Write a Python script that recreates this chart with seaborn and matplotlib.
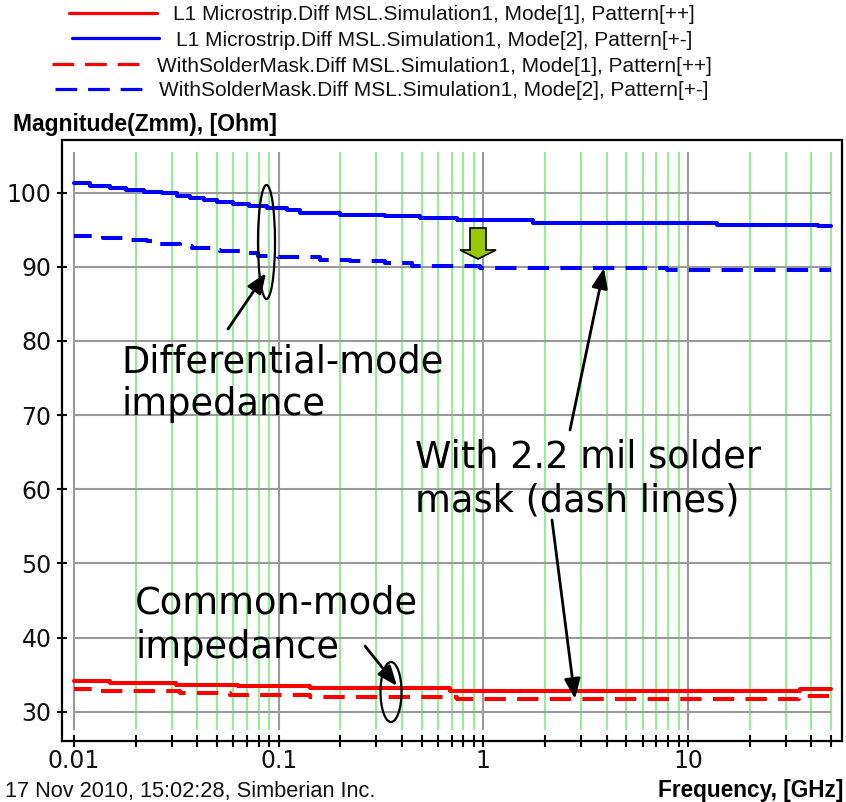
import matplotlib
matplotlib.use("Agg")
import matplotlib.pyplot as plt
import seaborn as sns
import pandas as pd
from matplotlib.patches import Ellipse, Polygon
from matplotlib.lines import Line2D

# ---- data: frequency (GHz) where each step of the extracted curve starts, impedance (Ohm)
freq_diff = [0.010, 0.012, 0.015, 0.018, 0.022, 0.027, 0.032, 0.037, 0.043, 0.050,
             0.060, 0.072, 0.088, 0.110, 0.127, 0.20, 0.331, 0.49, 0.744, 1.75, 13.9, 43.2, 50]
z_diff = [101.24, 100.92, 100.65, 100.34, 100.11, 99.89, 99.57, 99.26, 98.99, 98.72,
          98.45, 98.18, 97.91, 97.64, 97.3, 97.0, 96.8, 96.5, 96.25, 95.9, 95.66, 95.44, 95.44]

freq_diff_sm = [0.010, 0.0139, 0.0173, 0.0227, 0.0263, 0.0329, 0.0377, 0.0472, 0.0517, 0.067,
                0.0793, 0.0993, 0.159, 0.223, 0.331, 0.449, 0.964, 7.9, 50]
z_diff_sm = [94.1, 93.85, 93.6, 93.4, 93.0, 92.8, 92.5, 92.3, 92.1, 91.9,
             91.5, 91.26, 90.95, 90.7, 90.45, 90.13, 89.78, 89.55, 89.55]

freq_comm = [0.010, 0.0150, 0.0316, 0.063, 0.142, 0.689, 35.3, 50]
z_comm = [34.18, 33.91, 33.64, 33.42, 33.15, 32.83, 33.10, 33.10]

freq_comm_sm = [0.010, 0.013, 0.033, 0.058, 0.142, 0.74, 35.0, 50]
z_comm_sm = [33.02, 32.79, 32.52, 32.29, 32.02, 31.71, 32.12, 32.12]

legend_labels = [
    "L1 Microstrip.Diff MSL.Simulation1, Mode[1], Pattern[++]",
    "L1 Microstrip.Diff MSL.Simulation1, Mode[2], Pattern[+-]",
    "WithSolderMask.Diff MSL.Simulation1, Mode[1], Pattern[++]",
    "WithSolderMask.Diff MSL.Simulation1, Mode[2], Pattern[+-]",
]
x_major = [0.01, 0.1, 1, 10]
x_major_labels = ["0.01", "0.1", "1", "10"]
x_minor = [0.02, 0.03, 0.04, 0.05, 0.06, 0.07, 0.08, 0.09,
           0.2, 0.3, 0.4, 0.5, 0.6, 0.7, 0.8, 0.9,
           2, 3, 4, 5, 6, 7, 8, 9, 20, 30, 40, 50]
y_ticks = [30, 40, 50, 60, 70, 80, 90, 100]

# ---- figure
W, H = 846, 802
sns.set_theme(style="white")
plt.rcParams["font.family"] = ["DejaVu Sans"]
plt.rcParams["text.color"] = "black"
plt.rcParams["xtick.color"] = "black"
plt.rcParams["ytick.color"] = "black"
fig = plt.figure(figsize=(W / 100, H / 100), dpi=100)
fig.patch.set_facecolor("white")


def px(x, y):
    return (x / W, 1 - y / H)


ax = fig.add_axes([62 / W, 1 - 741 / H, (842 - 62) / W, (741 - 140) / H])
ax.set_facecolor("white")
ax.set_xscale("log")
ax.set_xlim(0.008737, 56.58)
ax.set_ylim(26.05, 107.08)

# grid
grid_gray = "#9a9a9a"
grid_green = "#86f086"
ax.vlines(x_minor, 27.53, 105.46, color=grid_green, lw=1.3, zorder=0)
ax.vlines(x_major, 27.53, 105.46, color=grid_gray, lw=1.5, zorder=0)
ax.hlines(y_ticks, 0.01, 50, color=grid_gray, lw=1.5, zorder=0)

RED = "#ff0000"
BLUE = "#0000ff"
LW = 2.9
dash = (0.9, (5.3, 2.8))

series = [
    (freq_comm, z_comm, RED, "-"),
    (freq_diff, z_diff, BLUE, "-"),
    (freq_comm_sm, z_comm_sm, RED, dash),
    (freq_diff_sm, z_diff_sm, BLUE, dash),
]
for f, z, c, ls in series:
    df = pd.DataFrame({"freq": f, "z": z})
    sns.lineplot(data=df, x="freq", y="z", ax=ax, color=c, lw=LW, ls=ls,
                 drawstyle="steps-post", estimator=None, sort=True, zorder=3)

ax.set_xlabel("")
ax.set_ylabel("")

# ticks
ax.set_xticks(x_major + x_minor)
ax.set_xticklabels(x_major_labels + [""] * len(x_minor))
ax.xaxis.set_minor_locator(matplotlib.ticker.NullLocator())
ax.set_yticks(y_ticks)
ax.set_yticklabels([str(v) for v in y_ticks])
ax.tick_params(axis="x", direction="inout", length=9, width=1.5, color="black",
               labelsize=17, pad=1, labelcolor="#111111", bottom=True)
ax.tick_params(axis="y", direction="inout", length=7, width=1.5, color="black",
               labelsize=17, pad=4, labelcolor="#111111", left=True)
for s in ax.spines.values():
    s.set_color("black")
    s.set_linewidth(1.6)

# legend: one centred row per series
rows_y = [15, 40, 66, 91]
styles = [(RED, "-"), (BLUE, "-"), (RED, (0, (6.8, 3.4))), (BLUE, (0, (6.8, 3.4)))]
for (c, ls), lab, yy in zip(styles, legend_labels, rows_y):
    h = Line2D([], [], color=c, lw=2.3, ls=ls)
    leg = fig.legend([h], [lab], loc="center", bbox_to_anchor=px(382, yy), frameon=False,
                     prop={"family": "Liberation Sans", "size": 15}, handlelength=4.2,
                     handletextpad=0.8, borderpad=0, borderaxespad=0)
    for t in leg.get_texts():
        t.set_color("#111111")

# axis titles and footer
fig.text(*px(13, 131), "Magnitude(Zmm), [Ohm]", fontsize=16.5, fontweight="bold",
         family="Liberation Sans", ha="left", va="baseline", color="black")
fig.text(*px(843, 797), "Frequency, [GHz]", fontsize=16.3, fontweight="bold",
         family="Liberation Sans", ha="right", va="baseline", color="black")
fig.text(*px(5, 797), "17 Nov 2010, 15:02:28, Simberian Inc.", fontsize=15.7,
         family="Liberation Sans", ha="left", va="baseline", color="#111111")

# annotations
ann_fs = 26.5
for x, y, s in [(121, 373, "Differential-mode"), (121, 415, "impedance"),
                (415, 467, "With 2.2 mil solder"), (415, 512, "mask (dash lines)"),
                (135, 614, "Common-mode"), (135, 658, "impedance")]:
    fig.text(*px(x, y), s, fontsize=ann_fs, ha="left", va="baseline", color="black")

for cx, cy, ew, eh in [(266.5, 242, 17, 114), (391, 692, 21, 60)]:
    e = Ellipse(px(cx, cy), ew / W, eh / H, transform=fig.transFigure,
                fill=False, ec="black", lw=1.6, zorder=10)
    fig.add_artist(e)

arrow_style = "-|>,head_length=0.55,head_width=0.22"
for tail, tip in [((228, 329), (266, 273)),
                  ((365, 646), (397, 686)),
                  ((570, 430), (604, 268)),
                  ((552, 520), (575, 699))]:
    ax.annotate("", xy=px(*tip), xytext=px(*tail), xycoords="figure fraction",
                textcoords="figure fraction",
                arrowprops=dict(arrowstyle=arrow_style, color="black", lw=2,
                                mutation_scale=22, shrinkA=0, shrinkB=0))

# green marker arrow
pts = [(470, 228), (486, 228), (486, 250), (496, 250), (478, 259), (460, 250), (470, 250)]
fig.add_artist(Polygon([px(*p) for p in pts], closed=True, transform=fig.transFigure,
                       fc="#99c800", ec="black", lw=1.2, zorder=10))

fig.savefig("out.png", dpi=100, facecolor="white")
